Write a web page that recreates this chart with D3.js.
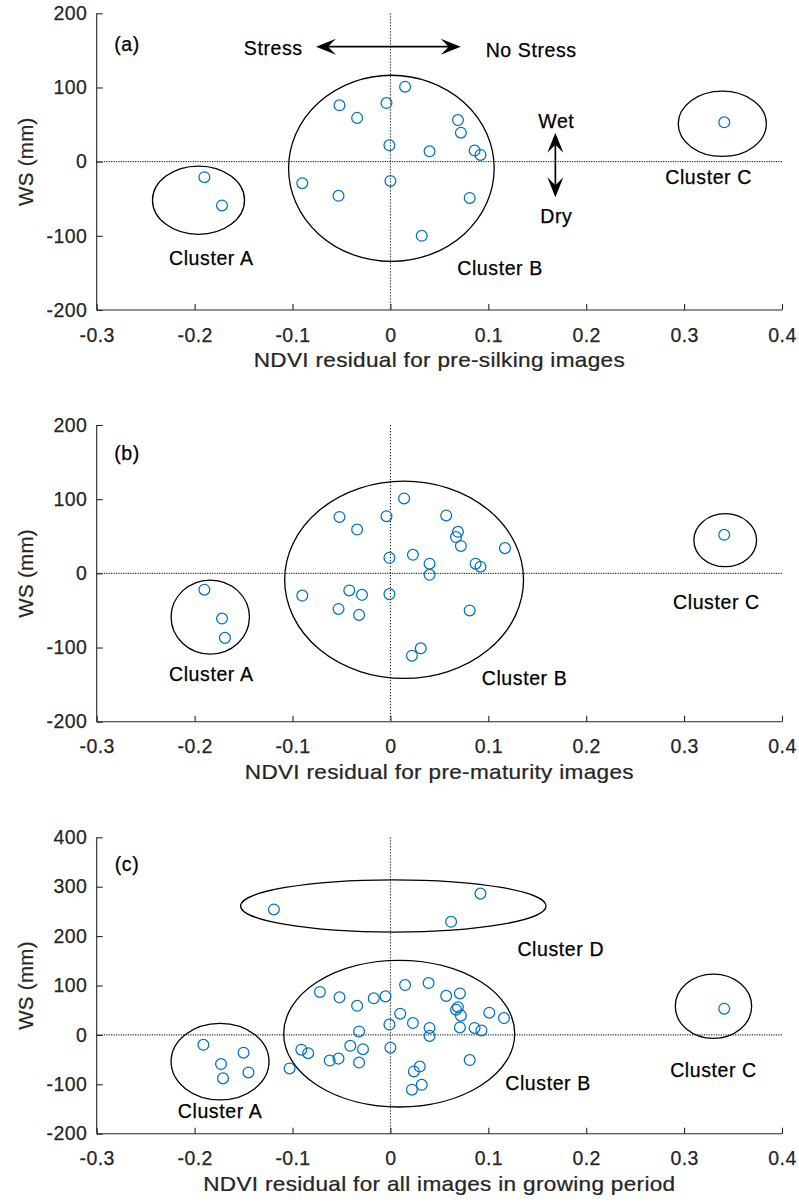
<!DOCTYPE html>
<html>
<head>
<meta charset="utf-8">
<script src="https://cdn.jsdelivr.net/npm/d3@7"></script>
<style>
  body { margin: 0; background: #fff; }
  svg { display: block; }
  text { font-family: "Liberation Sans", Arial, Helvetica, sans-serif; }
</style>
</head>
<body>
<svg id="fig" width="799" height="1202"></svg>
<script>
// ---- tick values ----
const ndviTicks = [-0.3, -0.2, -0.1, 0, 0.1, 0.2, 0.3, 0.4];
const wsTicksAB = [-200, -100, 0, 100, 200];
const wsTicksC = [-200, -100, 0, 100, 200, 300, 400];

// ---- (a) pre-silking: NDVI residual vs WS (mm) ----
const preSilkNdvi = [-0.190, -0.172,
  0.015, -0.052, -0.004, -0.034, 0.069, 0.072, -0.001, 0.040, 0.086, 0.092,
  -0.090, 0.000, -0.053, 0.081, 0.032,
  0.341];
const preSilkWs = [-21, -59,
  101, 76, 79, 59, 56, 39, 22, 14, 15, 9,
  -29, -26, -46, -49, -100,
  53];

// ---- (b) pre-maturity ----
const preMatNdvi = [-0.190, -0.172, -0.169,
  0.014, -0.052, -0.004, 0.057, -0.034, 0.069, 0.067, 0.072, 0.117, -0.001,
  0.023, 0.040, 0.087, 0.092, 0.040, -0.090, -0.042, -0.029, -0.001, -0.053,
  -0.032, 0.081, 0.031, 0.022,
  0.341];
const preMatWs = [-22, -61, -87,
  101, 76, 77, 78, 59, 56, 49, 37, 34, 21,
  25, 13, 13, 9, -2, -30, -23, -29, -28, -48,
  -56, -50, -101, -111,
  52];

// ---- (c) all images in growing period ----
const allNdvi = [-0.191, -0.173, -0.171, -0.150, -0.145,
  -0.119, 0.092, 0.062,
  -0.072, -0.052, -0.034, -0.017, -0.005, 0.015, 0.039, 0.057, 0.071, 0.069,
  0.067, 0.072, 0.101, 0.116, 0.010, -0.001, 0.023, 0.040, 0.040, 0.071,
  0.086, 0.093, -0.032, -0.091, -0.084, -0.041, -0.028, 0.000, -0.062,
  -0.053, -0.032, 0.081, 0.030, 0.024, 0.032, 0.022, -0.103,
  0.341];
const allWs = [-20, -59, -88, -36, -76,
  254, 286, 229,
  87, 76, 59, 74, 78, 101, 105, 79, 84, 56,
  51, 39, 45, 34, 43, 21, 24, 14, -2, 15,
  14, 9, 7, -30, -37, -22, -29, -26, -52,
  -48, -56, -51, -64, -74, -101, -111, -68,
  53];

// ---- cluster outlines (centre and half-axes in data units) ----
const clustersA = {
  name: ["Cluster A", "Cluster B", "Cluster C"],
  cx: [-0.196, 0.001, 0.339], cy: [-52, -9, 51],
  rx: [0.047, 0.105, 0.045], ry: [46, 125.5, 44],
  lx: [-0.183, 0.112, 0.325], ly: [-130, -144, -20]
};
const clustersB = {
  name: ["Cluster A", "Cluster B", "Cluster C"],
  cx: [-0.184, 0.014, 0.342], cy: [-59, -8.7, 44.7],
  rx: [0.040, 0.122, 0.032], ry: [50, 133, 35.7],
  lx: [-0.183, 0.137, 0.333], ly: [-135, -141, -39]
};
const clustersC = {
  name: ["Cluster A", "Cluster B", "Cluster C", "Cluster D"],
  cx: [-0.174, 0.009, 0.330, 0.003], cy: [-54, 2.5, 58, 261],
  rx: [0.050, 0.118, 0.039, 0.156], ry: [77.5, 148.5, 65, 53],
  lx: [-0.174, 0.161, 0.330, 0.174], ly: [-153, -98, -70, 174]
};

const panels = [
  { tag: "(a)", tagY: 158, top: 13.3, bottom: 310, ws: wsTicksAB,
    xs: preSilkNdvi, ys: preSilkWs, clusters: clustersA,
    xlabel: "NDVI residual for pre-silking images", arrows: true },
  { tag: "(b)", tagY: 162, top: 425, bottom: 721.7, ws: wsTicksAB,
    xs: preMatNdvi, ys: preMatWs, clusters: clustersB,
    xlabel: "NDVI residual for pre-maturity images", arrows: false },
  { tag: "(c)", tagY: 347, top: 837.3, bottom: 1133.7, ws: wsTicksC,
    xs: allNdvi, ys: allWs, clusters: clustersC,
    xlabel: "NDVI residual for all images in growing period", arrows: false }
];

const svg = d3.select("#fig");
const left = 96.7, right = 782;
const axisCol = "#262626";
const markerCol = "#0072BD";

// text with a faint outline of its own colour so the glyphs read a little heavier
function label(g, x, y, s, o = {}) {
  const fill = o.fill ?? "#000";
  return g.append("text")
    .attr("x", x).attr("y", y)
    .attr("dy", o.dy ?? "0.36em")
    .attr("text-anchor", o.anchor ?? "middle")
    .attr("font-size", o.size ?? 19.5)
    .attr("letter-spacing", o.ls ?? 0.6)
    .attr("fill", fill).attr("stroke", fill).attr("stroke-width", 0.25)
    .text(s);
}

// filled notched arrowhead with its tip at (tx, ty), pointing along (ux, uy)
function arrowHead(g, tx, ty, ux, uy) {
  const L = 20, W = 16, N = 12;
  const px = -uy, py = ux;
  const pts = [
    [tx, ty],
    [tx - L * ux + W / 2 * px, ty - L * uy + W / 2 * py],
    [tx - N * ux, ty - N * uy],
    [tx - L * ux - W / 2 * px, ty - L * uy - W / 2 * py]
  ];
  g.append("path").attr("d", "M" + pts.map(p => p.join(",")).join("L") + "Z")
    .attr("fill", "#000");
}

function doubleArrow(g, x1, y1, x2, y2) {
  const len = Math.hypot(x2 - x1, y2 - y1);
  const ux = (x2 - x1) / len, uy = (y2 - y1) / len;
  g.append("line")
    .attr("x1", x1 + 8 * ux).attr("y1", y1 + 8 * uy)
    .attr("x2", x2 - 8 * ux).attr("y2", y2 - 8 * uy)
    .attr("stroke", "#000").attr("stroke-width", 1.7);
  arrowHead(g, x2, y2, ux, uy);
  arrowHead(g, x1, y1, -ux, -uy);
}

panels.forEach(p => {
  const g = svg.append("g");
  const x = d3.scaleLinear().domain([-0.3, 0.4]).range([left, right]);
  const y = d3.scaleLinear().domain(d3.extent(p.ws)).range([p.bottom, p.top]);

  // reference lines at zero
  g.append("line")
    .attr("x1", left).attr("x2", right).attr("y1", y(0)).attr("y2", y(0))
    .attr("stroke", "#000").attr("stroke-width", 1).attr("stroke-dasharray", "1.2,1.2");
  g.append("line")
    .attr("x1", x(0)).attr("x2", x(0)).attr("y1", p.top).attr("y2", p.bottom)
    .attr("stroke", "#000").attr("stroke-width", 1).attr("stroke-dasharray", "1.2,1.8");

  // axes with inward ticks
  const xAxis = d3.axisBottom(x).tickValues(ndviTicks).tickSize(-6).tickPadding(18)
    .tickFormat(d => d === 0 ? "0" : d3.format(".1f")(d).replace("−", "-"));
  const gx = g.append("g").attr("transform", `translate(0,${p.bottom})`).call(xAxis);
  const yAxis = d3.axisLeft(y).tickValues(p.ws).tickSize(-6).tickPadding(9.5)
    .tickFormat(d => String(d));
  const gy = g.append("g").attr("transform", `translate(${left},0)`).call(yAxis);
  [gx, gy].forEach(a => {
    a.select(".domain").attr("stroke", axisCol).attr("stroke-width", 1.1);
    a.selectAll(".tick line").attr("stroke", axisCol).attr("stroke-width", 1.1);
    a.selectAll(".tick text").attr("fill", axisCol)
      .attr("stroke", axisCol).attr("stroke-width", 0.25)
      .attr("font-size", 19.5).attr("letter-spacing", 0.4)
      .attr("font-family", '"Liberation Sans", Arial, Helvetica, sans-serif');
  });
  gx.select(".domain").attr("d", `M${left},0H${right}`);
  gy.select(".domain").attr("d", `M0,${p.bottom}V${p.top}`);
  gx.selectAll(".tick text").attr("dy", 0).attr("y", 31.5);

  // axis titles (x title drawn slightly widened)
  g.append("text")
    .attr("transform", `translate(${(left + right) / 2},${p.bottom + 57}) scale(1.1,1)`)
    .attr("text-anchor", "middle").attr("font-size", 20.5)
    .attr("letter-spacing", 0.3).attr("fill", axisCol)
    .attr("stroke", axisCol).attr("stroke-width", 0.25).text(p.xlabel);
  g.append("text")
    .attr("transform", `translate(33,${(p.top + p.bottom) / 2}) rotate(-90)`)
    .attr("text-anchor", "middle").attr("font-size", 20.5)
    .attr("letter-spacing", 0.3).attr("fill", axisCol)
    .attr("stroke", axisCol).attr("stroke-width", 0.25).text("WS (mm)");

  // cluster outlines
  const c = p.clusters;
  c.name.forEach((n, i) => {
    g.append("ellipse")
      .attr("cx", x(c.cx[i])).attr("cy", y(c.cy[i]))
      .attr("rx", x(c.cx[i] + c.rx[i]) - x(c.cx[i]))
      .attr("ry", y(c.cy[i]) - y(c.cy[i] + c.ry[i]))
      .attr("fill", "none").attr("stroke", "#000").attr("stroke-width", 1.3);
    label(g, x(c.lx[i]), y(c.ly[i]), n);
  });

  // observations
  g.selectAll("circle.obs").data(d3.range(p.xs.length)).join("circle")
    .attr("class", "obs")
    .attr("cx", i => x(p.xs[i])).attr("cy", i => y(p.ys[i]))
    .attr("r", 5.4).attr("fill", "none")
    .attr("stroke", markerCol).attr("stroke-width", 1.25);

  // panel tag
  label(g, x(-0.269), y(p.tagY), p.tag);

  if (p.arrows) {
    doubleArrow(g, x(-0.076), y(155), x(0.0718), y(155));
    label(g, x(-0.1196), y(152.7), "Stress");
    label(g, x(0.1438), y(150.4), "No Stress");
    doubleArrow(g, x(0.1685), y(39), x(0.1685), y(-48));
    label(g, x(0.1695), y(55), "Wet");
    label(g, x(0.1695), y(-73), "Dry");
  }
});
</script>
</body>
</html>
